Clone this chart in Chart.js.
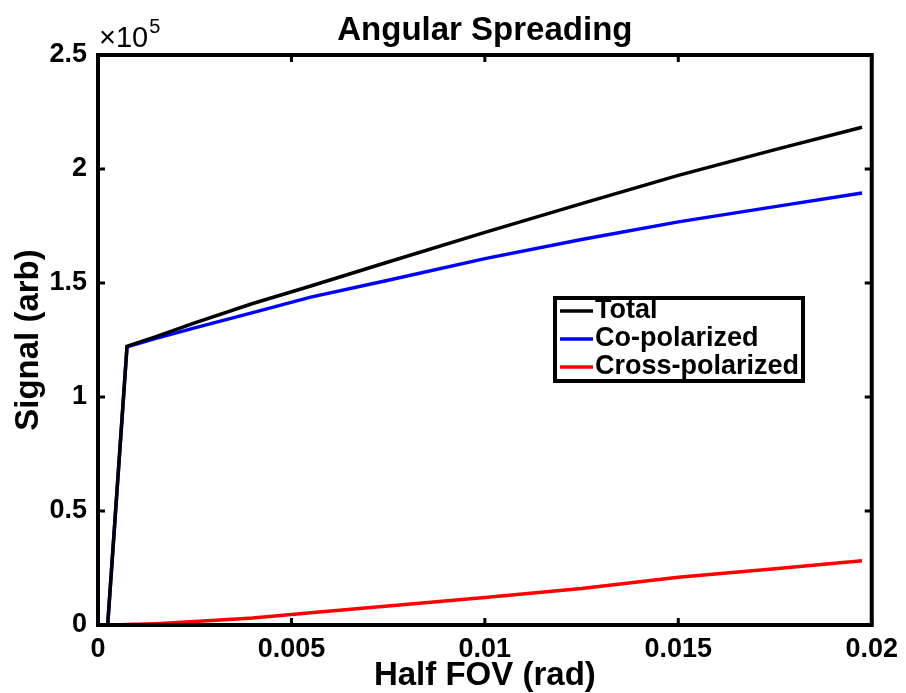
<!DOCTYPE html>
<html>
<head>
<meta charset="utf-8">
<script src="https://cdn.jsdelivr.net/npm/chart.js@4.4.1/dist/chart.umd.min.js"></script>
<style>
  html, body { margin: 0; padding: 0; background: #fff; }
  #wrap { width: 906px; height: 693px; position: relative; }
</style>
</head>
<body>
<div id="wrap"><canvas id="spread"></canvas></div>
<script>
// half field of view (rad)
var halfFov = [0.00025, 0.00075, 0.0015, 0.0025, 0.004, 0.0055, 0.0075, 0.01, 0.0125, 0.015, 0.0175, 0.01975];
// signal values (arb)
var totalSig = [0, 122200, 126500, 132500, 141000, 148700, 159200, 172200, 184800, 197200, 208500, 218300];
var coSig    = [0, 122000, 125700, 130300, 137000, 143800, 151200, 160700, 169100, 176800, 183500, 189500];
var crossSig = [0, 200, 600, 1500, 3100, 5400, 8300, 12100, 16000, 20900, 24700, 28200];

var xTicks = [0, 0.005, 0.01, 0.015, 0.02];
var yTicks = [0, 0.5, 1, 1.5, 2, 2.5]; // in units of 1e5

var FONT = '"Liberation Sans", Arial, Helvetica, sans-serif';

function pts(ys) {
    return halfFov.map(function (x, i) { return {x: x, y: ys[i]}; });
}

// box round the plot with inward ticks on all four sides, title, exponent, legend
var framePlugin = {
    id: 'frame',
    afterDraw: function (chart) {
        var ctx = chart.ctx, a = chart.chartArea;
        var xs = chart.scales.x, ys = chart.scales.y;
        ctx.save();
        ctx.strokeStyle = '#000';
        ctx.lineWidth = 4;
        ctx.lineCap = 'butt';
        ctx.strokeRect(a.left, a.top, a.right - a.left, a.bottom - a.top);
        var tl = 7;
        ctx.lineWidth = 3;
        ctx.beginPath();
        xTicks.forEach(function (t) {
            var px = xs.getPixelForValue(t);
            ctx.moveTo(px, a.bottom); ctx.lineTo(px, a.bottom - tl);
            ctx.moveTo(px, a.top); ctx.lineTo(px, a.top + tl);
        });
        yTicks.forEach(function (t) {
            var py = ys.getPixelForValue(t * 1e5);
            ctx.moveTo(a.left, py); ctx.lineTo(a.left + tl, py);
            ctx.moveTo(a.right, py); ctx.lineTo(a.right - tl, py);
        });
        ctx.stroke();

        // title
        ctx.fillStyle = '#000';
        ctx.textAlign = 'center';
        ctx.textBaseline = 'alphabetic';
        ctx.font = 'bold 33px ' + FONT;
        ctx.fillText('Angular Spreading', (a.left + a.right) / 2, 40);

        // x10^5 exponent label
        ctx.textAlign = 'left';
        ctx.font = '29px ' + FONT;
        ctx.fillText('\u00d710', a.left + 1, 47);
        var w = ctx.measureText('\u00d710').width;
        ctx.font = '20px ' + FONT;
        ctx.fillText('5', a.left + 2 + w, 33);

        // legend
        var lx = 555, ly = 298, lw = 248, lh = 83;
        ctx.lineWidth = 4;
        ctx.fillStyle = '#fff';
        ctx.fillRect(lx, ly, lw, lh);
        ctx.strokeRect(lx, ly, lw, lh);
        ctx.font = 'bold 27px ' + FONT;
        ctx.textBaseline = 'middle';
        ctx.lineWidth = 3.5;
        chart.data.datasets.forEach(function (ds, i) {
            var cy = 311 + i * 28;
            ctx.strokeStyle = ds.borderColor;
            ctx.beginPath();
            ctx.moveTo(560, cy); ctx.lineTo(593, cy);
            ctx.stroke();
            ctx.fillStyle = '#000';
            ctx.fillText(ds.label, 595, cy);
        });
        ctx.restore();
    }
};

var ctxs = document.getElementById('spread').getContext('2d');
var chartSpread = new Chart(ctxs, {
    type: 'line',
    data: {
        datasets: [
            {label: 'Total', data: pts(totalSig), borderColor: '#000000'},
            {label: 'Co-polarized', data: pts(coSig), borderColor: '#0000ff'},
            {label: 'Cross-polarized', data: pts(crossSig), borderColor: '#ff0000'}
        ]
    },
    options: {
        responsive: true,
        maintainAspectRatio: false,
        animation: false,
        datasets: {
            line: {borderWidth: 3.5, pointRadius: 0, tension: 0, fill: false}
        },
        layout: {padding: {left: 0, top: 55, right: 33, bottom: 0}},
        plugins: {
            legend: {display: false},
            tooltip: {enabled: false},
            title: {display: false}
        },
        scales: {
            x: {
                type: 'linear',
                min: 0,
                max: 0.02,
                grid: {display: false, drawTicks: false},
                border: {display: false},
                afterBuildTicks: function (s) { s.ticks = xTicks.map(function (v) { return {value: v}; }); },
                afterFit: function (s) { s.height = 68; },
                ticks: {
                    padding: 8,
                    color: '#000',
                    font: {family: FONT, size: 27, weight: 'bold'},
                    maxRotation: 0,
                    callback: function (v) { return String(Number(v.toFixed(3))); }
                },
                title: {
                    display: true,
                    text: 'Half FOV (rad)',
                    color: '#000',
                    font: {family: FONT, size: 33, weight: 'bold'},
                    padding: {top: 0, bottom: -3}
                }
            },
            y: {
                type: 'linear',
                min: 0,
                max: 250000,
                grid: {display: false, drawTicks: false},
                border: {display: false},
                afterBuildTicks: function (s) { s.ticks = yTicks.map(function (v) { return {value: v * 1e5}; }); },
                afterFit: function (s) { s.width = 98; },
                ticks: {
                    padding: 11,
                    color: '#000',
                    font: {family: FONT, size: 27, weight: 'bold'},
                    callback: function (v) { return String(Number((v / 1e5).toFixed(1))); }
                },
                title: {
                    display: true,
                    text: 'Signal (arb)',
                    color: '#000',
                    font: {family: FONT, size: 33, weight: 'bold'},
                    padding: {top: 9, bottom: 0}
                }
            }
        }
    },
    plugins: [framePlugin]
});
</script>
</body>
</html>
